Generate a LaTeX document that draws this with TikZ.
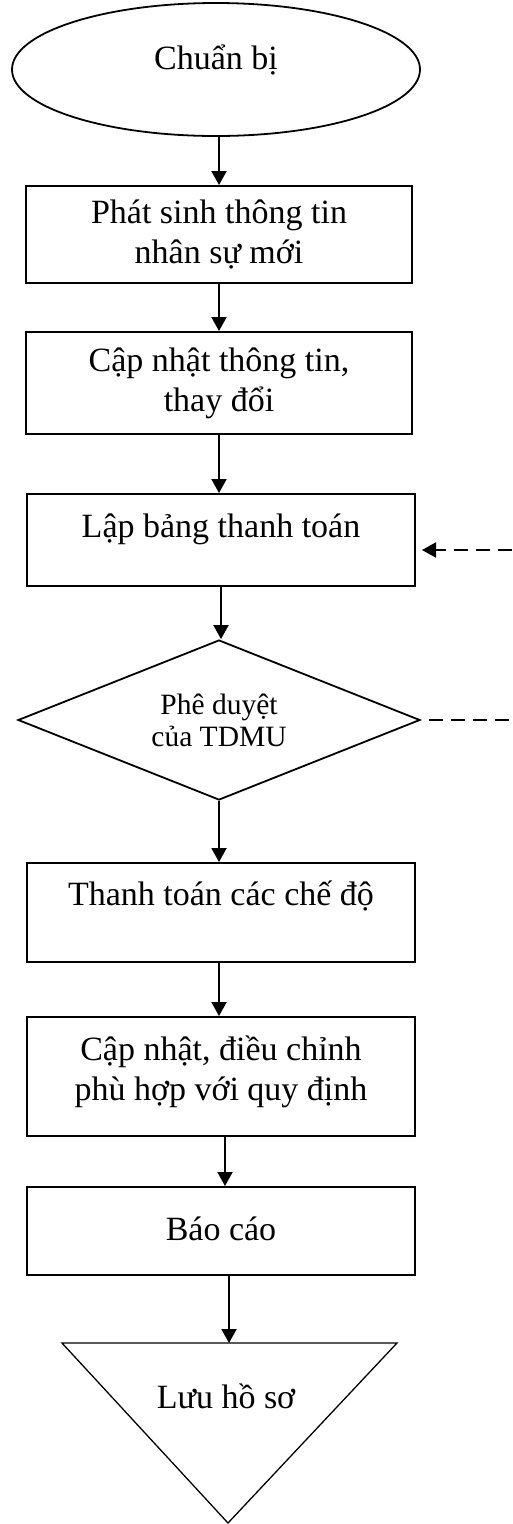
\documentclass[tikz,border=0pt]{standalone}
\usepackage{fontspec}
\setmainfont{Liberation Serif}
\usetikzlibrary{shapes.geometric, arrows.meta}

\begin{document}
\begin{tikzpicture}[x=1pt, y=-1pt,
        % Define a style for the boxes
        box/.style={draw, line width=2pt, rectangle, inner sep=0pt, align=center,
            font=\fontsize{34}{40}\selectfont},
        % Define a style for the arrows
        flow/.style={line width=2pt, -{Triangle[length=14pt, width=15pt]}},
        back/.style={line width=2pt, dash pattern=on 14pt off 8pt}]

        \useasboundingbox (0,0) rectangle (512,1524);

        % 1. Start and the steps
        \node[draw, ellipse, line width=1.8pt, minimum width=408pt, minimum height=133pt,
            inner sep=0pt, font=\fontsize{34}{40}\selectfont,
            text height=25pt, text depth=25pt] (start) at (216,69.5) {Chuẩn bị};
        \node[box, minimum width=386pt, minimum height=97pt] (new) at (219,234.5)
            {Phát sinh thông tin\\nhân sự mới};
        \node[box, minimum width=386pt, minimum height=102pt] (upd) at (219,383)
            {Cập nhật thông tin,\\thay đổi};
        \node[box, minimum width=388pt, minimum height=92pt,
            text height=25pt, text depth=31pt] (pay) at (221,540) {Lập bảng thanh toán};

        % 2. Decision
        \node[draw, diamond, line width=1.8pt, aspect=2.5, inner sep=0pt,
            minimum width=402pt, minimum height=160pt, align=center,
            font=\fontsize{29.5}{32}\selectfont] (ok) at (219,720) {Phê duyệt\\của TDMU};

        \node[box, minimum width=388pt, minimum height=99pt,
            text height=25pt, text depth=40pt] (run) at (221,912.5) {Thanh toán các chế độ};
        \node[box, minimum width=388pt, minimum height=119pt,
            text height=66pt, text depth=19pt] (fix) at (221,1076.5)
            {Cập nhật, điều chỉnh\\phù hợp với quy định};
        \node[box, minimum width=388pt, minimum height=88pt,
            text height=25pt, text depth=7pt] (rep) at (221,1231) {Báo cáo};

        % 3. Store (drawn as a triangle)
        \coordinate (tl) at (62,1343);
        \coordinate (tr) at (397,1343);
        \coordinate (tb) at (228,1523);
        \coordinate (ttop) at (229,1343);
        \draw[line width=1.3pt] (tl) -- (tr) -- (tb) -- cycle;
        \node[font=\fontsize{34}{40}\selectfont, text height=25pt, text depth=7pt] (store)
            at (226,1399) {Lưu hồ sơ};

        % 4. Arrows
        \draw[flow] (start.south -| new.north) -- (new.north);
        \draw[flow] (new) -- (upd);
        \draw[flow] (upd) -- (upd.south |- pay.north);
        \draw[flow] (pay.south) -- (pay.south |- ok.north);
        \draw[flow] (ok.south) -- (ok.south |- run.north);
        \draw[flow] (run.south -| ok.south) -- (fix.north -| ok.south);
        \draw[flow] ([xshift=4pt]fix.south) -- ([xshift=4pt]rep.north);
        \draw[flow] (rep.south -| ttop) -- (ttop);

        % 5. Dashed lines going back
        \coordinate (out1) at (512,720);
        \coordinate (out2) at (512,550);
        \draw[back] ([xshift=8pt]ok.east) -- (out1);
        \draw[back, -{Triangle[length=14pt, width=15pt]}] (out2) -- ([xshift=6pt]pay.east |- out2);

\end{tikzpicture}
\end{document}
